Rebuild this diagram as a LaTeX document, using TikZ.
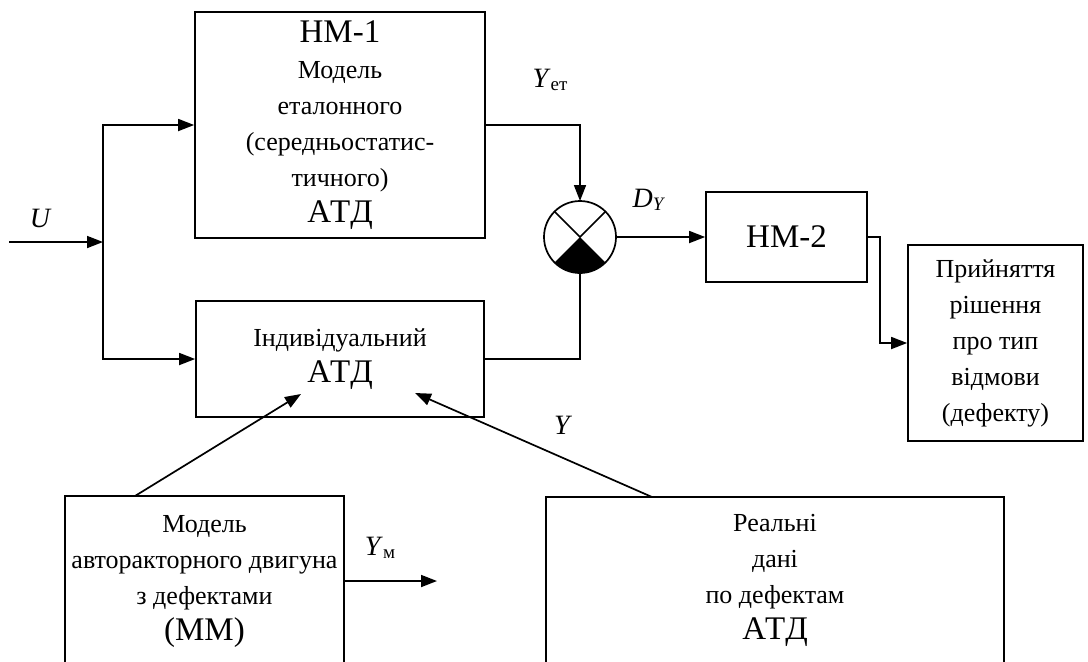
\documentclass[tikz,border=0pt]{standalone}
\usepackage{fontspec}
\setmainfont{Liberation Serif}
\newfontfamily\wideserif[LetterSpace=6]{Liberation Serif}
\usetikzlibrary{arrows.meta}
\newcommand{\bigtxt}{\fontsize{16.5}{18}\selectfont}
\newcommand{\lbltxt}{\fontsize{14}{16}\selectfont}
\newcommand{\subtxt}[1]{\raisebox{-1.5pt}{\fontsize{9.5}{11}\selectfont #1}}

\begin{document}
\begin{tikzpicture}[x=0.5pt,y=0.5pt,
  blok/.style={draw,line width=.3mm,inner sep=0pt,align=center,
    font=\fontsize{13}{18}\selectfont},
  >={Triangle[length=8pt,width=6pt]}]
\useasboundingbox (0,0) rectangle (1088,-661);
\clip (0,0) rectangle (1088,-661);
% blocks
\node[blok,minimum width=145pt,minimum height=113pt] (nm1) at (340,-125)
  {{\bigtxt НМ-1}\\Модель\\еталонного\\(середньостатис-\\тичного)\\{\bigtxt\wideserif АТД}};
\node[blok,minimum width=144pt,minimum height=58pt] (ind) at (340,-359)
  {Індивідуальний\\{\bigtxt\wideserif АТД}};
\node[blok,minimum width=80.5pt,minimum height=45pt] (nm2) at (786.5,-237) {\bigtxt НМ-2};
\node[blok,minimum width=87.5pt,minimum height=98pt] (dec) at (995.5,-343)
  {Прийняття\\рішення\\про тип\\відмови\\(дефекту)};
\node[blok,minimum width=139.5pt,minimum height=85pt] (mm) at (204.5,-581)
  {Модель\\авторакторного двигуна\\з дефектами\\{\bigtxt (ММ)}};
\node[blok,minimum width=229pt,minimum height=83pt] (real) at (775,-580)
  {Реальні\\дані\\по дефектам\\{\bigtxt\wideserif АТД}};
% comparator
\node[draw,circle,line width=.3mm,minimum size=36pt,inner sep=0pt,outer sep=0pt] (cmp) at (580,-237) {};
\fill (cmp.center) -- (cmp.-135) arc[start angle=-135,end angle=-45,radius=18pt] -- cycle;
\draw[line width=.3mm] (cmp.135) -- (cmp.center) -- (cmp.45);
% free ends
\coordinate (uin) at (9,-242);
\coordinate (jn) at (103,-242);
\coordinate (mmtop) at (135,-496);
\coordinate (indin1) at (301,-394);
\coordinate (realtop) at (652,-497);
\coordinate (indin2) at (415,-393);
\coordinate (ymout) at (437,-581);
% connectors
\draw[line width=.3mm,->] (uin) -- (jn);
\draw[line width=.3mm,->] (jn) |- (nm1.west);
\draw[line width=.3mm,->] (jn) |- (ind.west);
\draw[line width=.3mm,->] (nm1.east) -| (cmp.north);
\draw[line width=.3mm] (ind.east) -| (cmp.south);
\draw[line width=.3mm,->] (cmp.east) -- (nm2.west);
\draw[line width=.3mm,->] (nm2.east) -- ++(12,0) |- (dec.west);
\draw[line width=.3mm,->] (mmtop) -- (indin1);
\draw[line width=.3mm,->] (realtop) -- (indin2);
\draw[line width=.3mm,->] (mm.east) -- (ymout);
% labels
\node (lu) at (40,-218) {\lbltxt\itshape U};
\node (lyet) at (550,-80) {\lbltxt\textit{Y}\subtxt{ет}};
\node (ldy) at (648,-200) {\lbltxt\textit{D}\subtxt{\itshape Y}};
\node (ly) at (562,-425) {\lbltxt\itshape Y};
\node (lym) at (380,-548) {\lbltxt\textit{Y}\subtxt{м}};
\end{tikzpicture}
\end{document}
